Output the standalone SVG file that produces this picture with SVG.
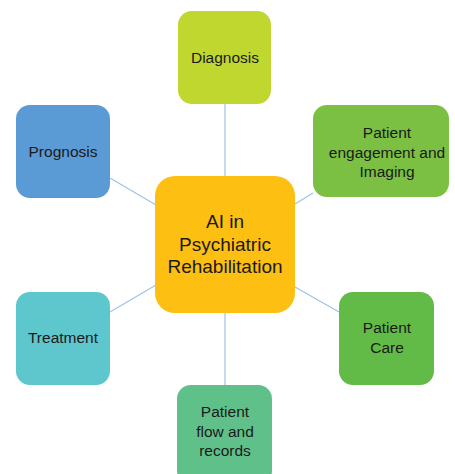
<svg xmlns="http://www.w3.org/2000/svg" width="455" height="474" viewBox="0 0 455 474">
  <style>
    .node text { font-family: "Liberation Sans", Arial, sans-serif; font-size: 15.5px; fill: #1a1a1a; text-anchor: middle; }
    .hub text { font-size: 19px; }
    .link { stroke: #9DC3E6; stroke-width: 1.2; fill: none; }
  </style>
  <rect width="455" height="474" fill="#ffffff"/>

  <!-- connectors from the hub to each topic -->
  <g id="connectors">
    <line class="link" x1="225" y1="104" x2="225" y2="176"/>
    <line class="link" x1="110" y1="178" x2="156" y2="205"/>
    <line class="link" x1="313" y1="193" x2="295" y2="204"/>
    <line class="link" x1="110" y1="312" x2="156" y2="285"/>
    <line class="link" x1="295" y1="287" x2="339" y2="312"/>
    <line class="link" x1="225" y1="313" x2="225" y2="385"/>
  </g>

  <g id="hub" class="node hub">
    <rect x="155" y="176" width="140" height="137" rx="20" fill="#FDBF12"/>
    <text x="225" y="228">AI in</text>
    <text x="225" y="251">Psychiatric</text>
    <text x="225" y="273">Rehabilitation</text>
  </g>

  <g id="diagnosis" class="node">
    <rect x="178" y="11" width="93" height="93" rx="14" fill="#C0D72F"/>
    <text x="225" y="63">Diagnosis</text>
  </g>

  <g id="prognosis" class="node">
    <rect x="16" y="105" width="94" height="93" rx="14" fill="#5B9BD5"/>
    <text x="63" y="157">Prognosis</text>
  </g>

  <g id="engagement" class="node">
    <rect x="313" y="105" width="136" height="92" rx="14" fill="#7BBF43"/>
    <text x="387" y="138">Patient</text>
    <text x="387" y="158">engagement and</text>
    <text x="387" y="177">Imaging</text>
  </g>

  <g id="treatment" class="node">
    <rect x="16" y="292" width="94" height="93" rx="14" fill="#5EC6CD"/>
    <text x="63" y="343">Treatment</text>
  </g>

  <g id="care" class="node">
    <rect x="339" y="292" width="95" height="93" rx="14" fill="#63BB47"/>
    <text x="387" y="333">Patient</text>
    <text x="387" y="353">Care</text>
  </g>

  <g id="flow" class="node">
    <rect x="177" y="385" width="95" height="100" rx="14" fill="#60C08A"/>
    <text x="225" y="417">Patient</text>
    <text x="225" y="437">flow and</text>
    <text x="225" y="456">records</text>
  </g>
</svg>
